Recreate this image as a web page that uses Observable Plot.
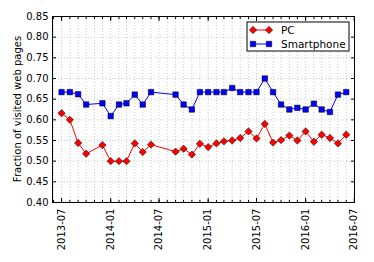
<!DOCTYPE html>
<html><head><meta charset="utf-8">
<script src="https://cdn.jsdelivr.net/npm/d3@7"></script>
<script src="https://cdn.jsdelivr.net/npm/@observablehq/plot@0.6"></script>
<style>body{margin:0;background:#fff}</style>
</head><body><div id="chart"></div>
<script>
const months = ["2013-07","2013-08","2013-09","2013-10","2013-12","2014-01","2014-02","2014-03","2014-04","2014-05","2014-06","2014-09","2014-10","2014-11","2014-12","2015-01","2015-02","2015-03","2015-04","2015-05","2015-06","2015-07","2015-08","2015-09","2015-10","2015-11","2015-12","2016-01","2016-02","2016-03","2016-04","2016-05","2016-06"];
const pc = [0.616,0.600,0.544,0.518,0.539,0.500,0.500,0.500,0.543,0.522,0.540,0.523,0.530,0.516,0.542,0.534,0.543,0.548,0.550,0.556,0.572,0.555,0.590,0.545,0.551,0.562,0.550,0.572,0.547,0.564,0.556,0.543,0.564];
const smartphone = [0.667,0.667,0.662,0.637,0.640,0.609,0.637,0.640,0.661,0.637,0.667,0.661,0.637,0.625,0.667,0.667,0.667,0.667,0.677,0.667,0.667,0.667,0.700,0.667,0.637,0.625,0.629,0.625,0.639,0.625,0.619,0.661,0.667];
const seriesNames = ["PC","Smartphone"];
const yTicks = [0.40,0.45,0.50,0.55,0.60,0.65,0.70,0.75,0.80,0.85];
const xMajorTicks = ["2013-07","2014-01","2014-07","2015-01","2015-07","2016-01","2016-07"];
const xDomain = ["2013-05-28","2016-07-02"];
const yLabel = "Fraction of visited web pages";

const parseM = d3.utcParse("%Y-%m");
const parseD = d3.utcParse("%Y-%m-%d");
const data = months.map((m, i) => ({date: parseM(m), pc: pc[i], sp: smartphone[i]}));
const major = xMajorTicks.map(parseM);
const minor = d3.utcMonth.range(parseM("2013-06"), parseM("2016-07"));
const none = () => "";
const grid = {stroke: "#999", strokeWidth: 0.5, strokeDasharray: "1,2"};

const svg = Plot.plot({
  width: 374, height: 262,
  marginLeft: 52, marginRight: 20, marginTop: 16, marginBottom: 60,
  style: {fontFamily: "DejaVu Sans", fontSize: "10px", background: "#fff", color: "#000"},
  x: {type: "utc", domain: xDomain.map(parseD), label: null},
  y: {domain: [0.40, 0.85], label: null},
  marks: [
    Plot.ruleX(minor, grid),
    Plot.ruleY(yTicks, grid),
    Plot.line(data, {x: "date", y: "sp", stroke: "#0000ff", strokeWidth: 1}),
    Plot.line(data, {x: "date", y: "pc", stroke: "#ff0000", strokeWidth: 1}),
    Plot.dot(data, {x: "date", y: "pc", symbol: "diamond2", r: 3.3, fill: "#ff0000", stroke: "#000", strokeWidth: 0.5}),
    Plot.dot(data, {x: "date", y: "sp", symbol: "square", r: 3.1, fill: "#0000ff", stroke: "#000", strokeWidth: 0.5}),
    Plot.axisX(major, {tickSize: -4, tickRotate: -90, tickPadding: 10, tickFormat: d3.utcFormat("%Y-%m"), label: null}),
    Plot.axisX(minor, {tickSize: -2, tickFormat: none, label: null}),
    Plot.axisX(major, {anchor: "top", tickSize: -4, tickFormat: none, label: null}),
    Plot.axisX(minor, {anchor: "top", tickSize: -2, tickFormat: none, label: null}),
    Plot.axisY(yTicks, {tickSize: -4, tickPadding: 8, tickFormat: d3.format(".2f"), label: null}),
    Plot.axisY(yTicks, {anchor: "right", tickSize: -4, tickFormat: none, label: null}),
    Plot.frame({stroke: "#000", strokeWidth: 1})
  ]
});
document.getElementById("chart").appendChild(svg);

// y label
const s = d3.select(svg);
s.append("text")
  .attr("transform", "translate(17,109) rotate(-90)")
  .attr("text-anchor", "middle").attr("dominant-baseline", "central")
  .style("font-family", "DejaVu Sans").style("font-size", "10px").attr("fill", "#000")
  .text(yLabel);

// legend
const lg = s.append("g").attr("transform", "translate(247,22)");
lg.append("rect").attr("x", 0).attr("y", 0).attr("width", 102).attr("height", 29)
  .attr("fill", "#fff").attr("stroke", "#000").attr("stroke-width", 1);
const colors = ["#ff0000", "#0000ff"];
const syms = [d3.symbol(d3.symbolDiamond2, Math.PI * 3.3 * 3.3), d3.symbol(d3.symbolSquare, Math.PI * 3.1 * 3.1)];
seriesNames.forEach((name, i) => {
  const y = 8 + i * 14;
  lg.append("line").attr("x1", 6).attr("x2", 22).attr("y1", y).attr("y2", y)
    .attr("stroke", colors[i]).attr("stroke-width", 1);
  [6, 22].forEach(x => lg.append("path").attr("d", syms[i]()).attr("transform", `translate(${x},${y})`)
    .attr("fill", colors[i]).attr("stroke", "#000").attr("stroke-width", 0.5));
  lg.append("text").attr("x", 34).attr("y", y).attr("dominant-baseline", "central")
    .attr("text-anchor", "start")
    .style("font-family", "DejaVu Sans").style("font-size", "10.5px").attr("fill", "#000").text(name);
});
</script></body></html>
